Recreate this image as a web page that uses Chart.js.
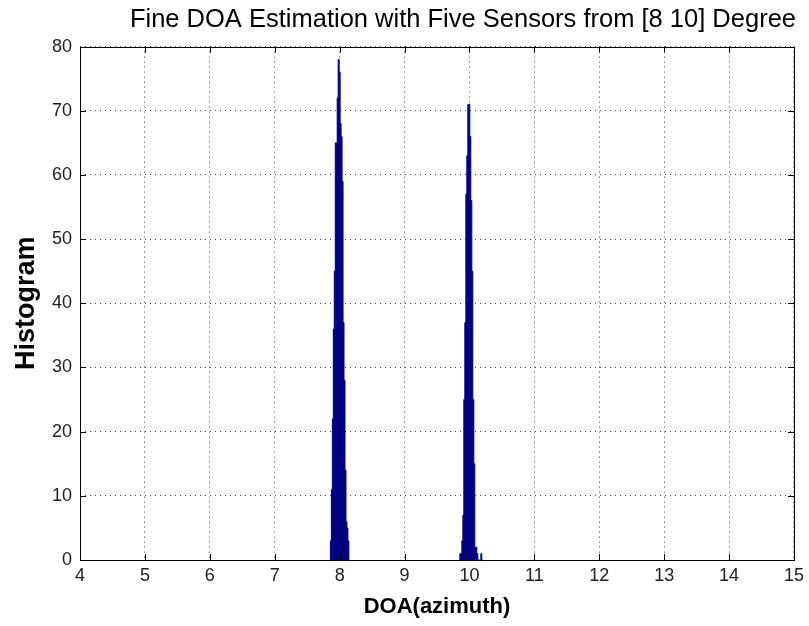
<!DOCTYPE html>
<html>
<head>
<meta charset="utf-8">
<script src="https://cdn.jsdelivr.net/npm/chart.js@4"></script>
<style>
  body { margin: 0; background: #fff; }
</style>
</head>
<body>
<canvas id="chart1" width="809" height="626"></canvas>
<script>
// histogram bins (degrees) and counts
const binsNear8 = [
  7.850, 7.865, 7.880, 7.895, 7.910, 7.925, 7.940, 7.955, 7.970, 7.985, 8.000,
  8.015, 8.030, 8.045, 8.060, 8.075, 8.090, 8.105, 8.120, 8.135, 8.150
];
const countsNear8 = [
  0, 3, 11, 22, 36, 45, 65, 65, 72, 78, 76,
  68, 66, 59, 37, 28, 14, 6, 5, 3, 0
];
const binsNear10 = [
  9.845, 9.860, 9.875, 9.891, 9.906, 9.921, 9.937, 9.952, 9.967, 9.983, 9.998,
  10.013, 10.029, 10.044, 10.060, 10.075, 10.090, 10.106, 10.121, 10.137,
  10.168, 10.183, 10.198
];
const countsNear10 = [
  0, 1, 1, 3, 7, 25, 37, 57, 63, 71, 71,
  66, 56, 45, 25, 15, 2, 2, 1, 0,
  0, 1, 0
];
const xTicks = [4, 5, 6, 7, 8, 9, 10, 11, 12, 13, 14, 15];
const yTicks = [0, 10, 20, 30, 40, 50, 60, 70, 80];

const toPoints = (bins, counts) => bins.map((b, i) => ({ x: b, y: counts[i] }));

// matlab style box + inward tick marks
const boxPlugin = {
  id: "box",
  afterDraw(chart) {
    const ctx = chart.ctx;
    const a = chart.chartArea;
    const xs = chart.scales.x;
    const ys = chart.scales.y;
    ctx.save();
    ctx.strokeStyle = "#000";
    ctx.lineWidth = 1;
    ctx.beginPath();
    xTicks.forEach((t) => {
      const px = Math.round(xs.getPixelForValue(t)) + 0.5;
      ctx.moveTo(px, a.bottom);
      ctx.lineTo(px, a.bottom - 6);
      ctx.moveTo(px, a.top);
      ctx.lineTo(px, a.top + 6);
    });
    yTicks.forEach((t) => {
      const py = Math.round(ys.getPixelForValue(t)) + 0.5;
      ctx.moveTo(a.left, py);
      ctx.lineTo(a.left + 6, py);
      ctx.moveTo(a.right, py);
      ctx.lineTo(a.right - 6, py);
    });
    ctx.stroke();
    ctx.strokeRect(Math.round(a.left) + 0.5, Math.round(a.top) + 0.5,
      Math.round(a.right - a.left), Math.round(a.bottom - a.top));
    ctx.restore();
  },
};

const histStyle = {
  stepped: "middle",
  fill: "origin",
  backgroundColor: "#000080",
  borderColor: "#000080",
  borderWidth: 1,
  pointRadius: 0,
};

const chart1 = new Chart(document.getElementById("chart1"), {
  type: "line",
  data: {
    datasets: [
      { data: toPoints(binsNear8, countsNear8), ...histStyle },
      { data: toPoints(binsNear10, countsNear10), ...histStyle },
    ],
  },
  plugins: [boxPlugin],
  options: {
    responsive: false,
    animation: false,
    layout: { padding: { left: 0, right: 13, top: 0, bottom: 0 } },
    plugins: {
      legend: { display: false },
      tooltip: { enabled: false },
      title: {
        display: true,
        align: "end",
        text: "Fine DOA Estimation with Five Sensors from [8 10] Degree",
        color: "#000",
        font: { family: "Liberation Sans", size: 25.5, weight: "normal" },
        padding: { top: 5, bottom: 11 },
      },
    },
    scales: {
      x: {
        type: "linear",
        min: 4,
        max: 15,
        afterFit(scale) { scale.height = 66; },
        ticks: {
          stepSize: 1,
          color: "#222",
          padding: 5,
          font: { family: "Liberation Sans", size: 18 },
          maxRotation: 0,
        },
        grid: {
          color: "#444",
          drawTicks: false,
        },
        border: { display: false, dash: [1, 4] },
        title: {
          display: true,
          text: "DOA(azimuth)",
          color: "#000",
          font: { family: "Liberation Sans", size: 22, weight: "bold" },
          padding: { top: 4, bottom: 6 },
        },
      },
      y: {
        min: 0,
        max: 80,
        afterFit(scale) { scale.width = 80; },
        ticks: {
          stepSize: 10,
          color: "#222",
          padding: 8,
          font: { family: "Liberation Sans", size: 18 },
        },
        grid: {
          color: "#444",
          drawTicks: false,
        },
        border: { display: false, dash: [1, 4] },
        title: {
          display: true,
          text: "Histogram",
          color: "#000",
          font: { family: "Liberation Sans", size: 27, weight: "bold" },
          padding: { top: 10, bottom: 0 },
        },
      },
    },
  },
});
</script>
</body>
</html>
